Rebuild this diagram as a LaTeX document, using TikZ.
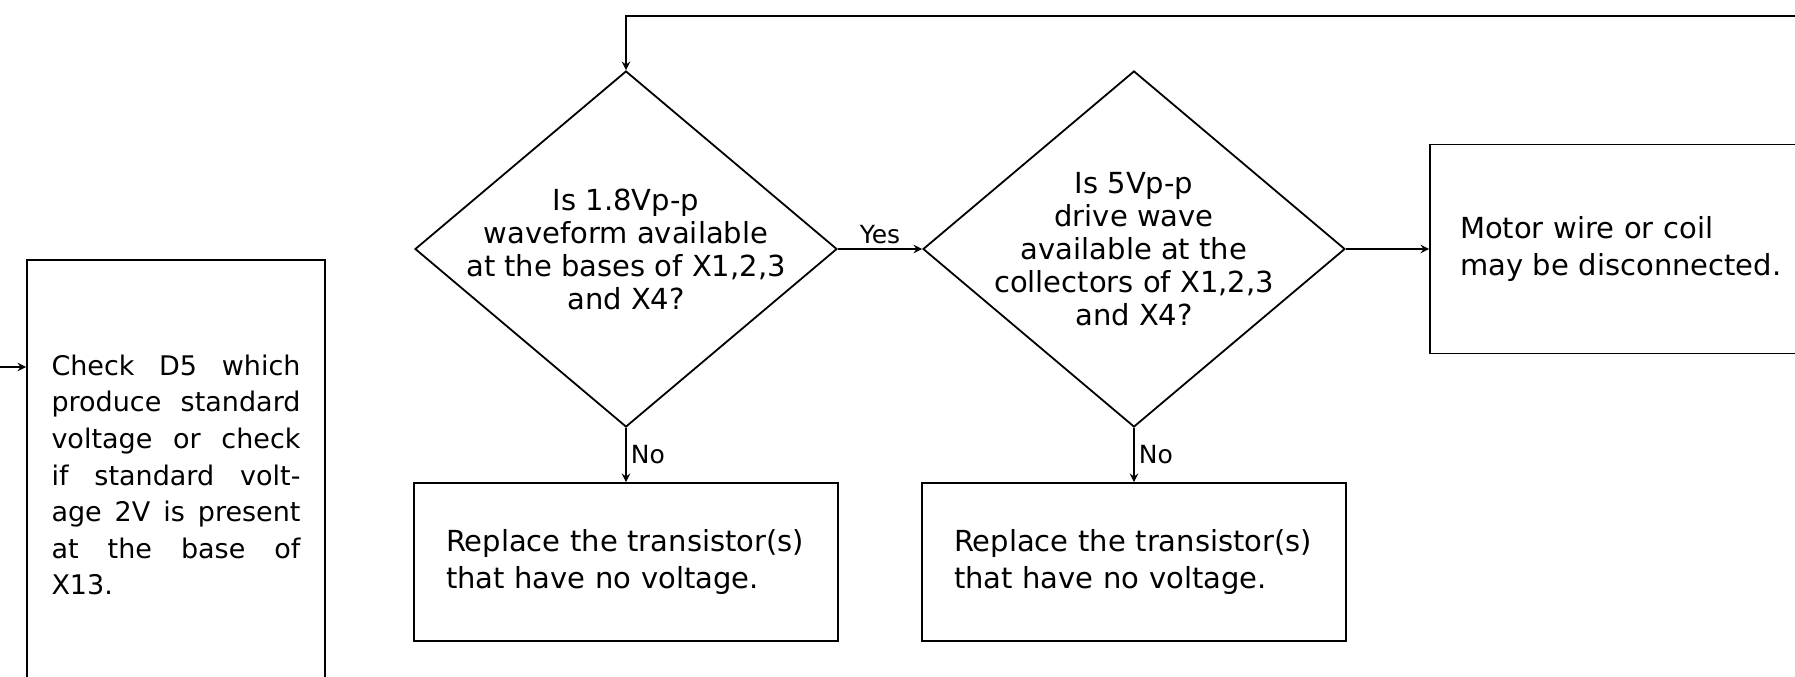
\documentclass[tikz,border=0pt]{standalone}
\usepackage{fontspec}
\setmainfont{DejaVu Sans}
\usetikzlibrary{positioning}
\usetikzlibrary{shapes.geometric}

\begin{document}
\begin{tikzpicture}[x=0.5pt, y=-0.5pt, >=stealth, line width=0.9pt,
        font=\fontsize{14.5}{18.5}\selectfont, node distance=254pt,
        question/.style={diamond, draw, minimum width=211pt, minimum height=178pt, inner sep=0pt},
        answer/.style={draw, minimum width=212pt, minimum height=79pt, text width=180pt, inner xsep=16pt, align=left},
        small/.style={font=\fontsize{12.5}{14}\selectfont, inner sep=2pt}]
            \useasboundingbox (0,0) rectangle (1795,676);
            \clip (0,0) rectangle (1795,676);

            \node [draw, minimum width=149pt, minimum height=215pt, text width=124.5pt, align=justify,
                font=\fontsize{13.5}{18.3}\selectfont] (check) at (176,475)
                {Check D5 which\linebreak produce standard\linebreak voltage or check\linebreak
                 if standard volt-\linebreak age 2V is present\linebreak at the base of\linebreak X13.};

            \node [question, label={[align=center, font=\fontsize{14.5}{16.5}\selectfont]center:{Is 1.8Vp-p\\waveform available\\at the bases of X1,2,3\\and X4?}}] (q1) at (626,249) {};
            \node [question, right of=q1, label={[align=center, font=\fontsize{14.5}{16.5}\selectfont]center:{Is 5Vp-p\\drive wave\\available at the\\collectors of X1,2,3\\and X4?}}] (q2) {};
            \node [answer, node distance=156.5pt, below of=q1] (repl1) {Replace the transistor(s)\\that have no voltage.};
            \node [answer, node distance=156.5pt, below of=q2] (repl2) {Replace the transistor(s)\\that have no voltage.};
            \node [draw, minimum width=195pt, minimum height=104.5pt, text width=165pt, inner xsep=15pt, align=left,
                node distance=245.5pt, right of=q2] (motor) {Motor wire or coil\\may be disconnected.};

            \coordinate (back) at (1800,16);
            \coordinate (from) at (0,367);

            % flow
            \draw[->] (back) -- (back -| q1.north) -- (q1.north);
            \draw[->] (from) -- (from -| check.west);
            \draw[->] (q1.east) -- node[small, above]{Yes} (q2.west);
            \draw[->] (q2.east) -- (motor.west);
            \draw[->] (q1.south) -- node[small, right]{No} (repl1.north);
            \draw[->] (q2.south) -- node[small, right]{No} (repl2.north);
        \end{tikzpicture}
\end{document}
